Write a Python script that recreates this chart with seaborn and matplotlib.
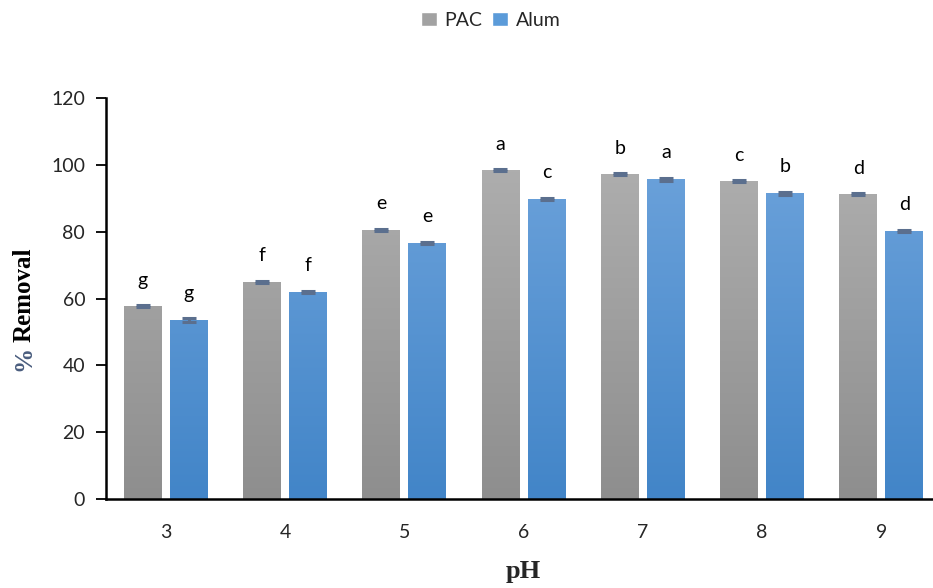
import numpy as np
import pandas as pd
import matplotlib
matplotlib.use("Agg")
import matplotlib.pyplot as plt
import matplotlib.colors as mcolors
from matplotlib.patches import Patch
import seaborn as sns

# values
ph_levels = ["3", "4", "5", "6", "7", "8", "9"]
pac_removal = [57.7, 64.9, 80.5, 98.4, 97.2, 95.1, 91.2]
alum_removal = [53.6, 62.0, 76.6, 89.8, 95.7, 91.5, 80.2]
pac_err = [0.3, 0.3, 0.4, 0.3, 0.3, 0.3, 0.3]
alum_err = [0.5, 0.3, 0.3, 0.4, 0.4, 0.4, 0.3]
pac_letters = ["g", "f", "e", "a", "b", "c", "d"]
alum_letters = ["g", "f", "e", "c", "a", "b", "d"]

df = pd.DataFrame({
    "pH": ph_levels * 2,
    "removal": pac_removal + alum_removal,
    "coagulant": ["PAC"] * len(ph_levels) + ["Alum"] * len(ph_levels),
})

sns.set_style("white")
plt.rcParams["font.family"] = ["Lato", "DejaVu Sans"]

fig = plt.figure(figsize=(9.33, 5.88), dpi=100)
ax = fig.add_axes([106 / 933, 89 / 588, 835 / 933, 401 / 588])

sns.barplot(data=df, x="pH", y="removal", hue="coagulant", order=ph_levels,
            hue_order=["PAC", "Alum"], palette=["#a4a4a4", "#5b9bd9"],
            width=0.772, gap=0.176, errorbar=None, legend=False, ax=ax)

# gradient fill (Excel style) clipped to each bar
grads = {
    0: ("#b4b4b4", "#8e8e8e"),
    1: ("#73a7de", "#4285c8"),
}
for i, cont in enumerate(ax.containers):
    top_c, bot_c = grads[i]
    cmap = mcolors.LinearSegmentedColormap.from_list(f"g{i}", [bot_c, top_c])
    for bar in cont:
        x0, w = bar.get_x(), bar.get_width()
        grad = np.linspace(0, 1, 256).reshape(-1, 1)
        im = ax.imshow(grad, cmap=cmap, origin="lower", aspect="auto",
                       extent=[x0, x0 + w, 0, 120], zorder=2)
        im.set_clip_path(bar)
        bar.set_facecolor("none")
        bar.set_edgecolor("none")

# error bars and significance letters
for cont, errs, letters in [(ax.containers[0], pac_err, pac_letters),
                            (ax.containers[1], alum_err, alum_letters)]:
    xs = [b.get_x() + b.get_width() / 2 for b in cont]
    hs = [b.get_height() for b in cont]
    ax.errorbar(xs, hs, yerr=errs, fmt="none", ecolor="#5b6f8e",
                elinewidth=2.2, capsize=5, capthick=2.2, zorder=4)
    for x, h, e, lt in zip(xs, hs, errs, letters):
        ax.annotate(lt, (x, h + e), xytext=(0, 12), textcoords="offset points",
                    ha="center", va="bottom", fontsize=14, color="black")

ax.set_xlim(-0.5, 6.5)
ax.set_ylim(0, 120)
ax.set_yticks(range(0, 121, 20))
ax.set_xticks(range(len(ph_levels)))
ax.set_xticklabels(ph_levels)
ax.set_xticks(np.arange(-0.5, 7, 1), minor=True)
ax.tick_params(axis="x", which="major", length=0, pad=18, labelsize=14)
ax.tick_params(axis="x", which="minor", length=7, width=1.3, direction="out",
               color="black")
ax.tick_params(axis="y", length=7, width=1.3, direction="out", labelsize=14,
               pad=8, color="black", left=True)
for s in ["top", "right"]:
    ax.spines[s].set_visible(False)
for s in ["left", "bottom"]:
    ax.spines[s].set_color("black")
    ax.spines[s].set_linewidth(1.8)

ax.set_xlabel("pH", fontsize=19, fontweight="bold",
              family=["Liberation Serif"], labelpad=14)
ax.set_ylabel("")

# y label: blue-grey percent sign followed by black "Removal"
ylab_y = (588 - 371) / 588
lab_font = dict(rotation=90, ha="center", va="bottom", fontsize=18,
                fontweight="bold", family=["Liberation Serif"])
pct = fig.text(0.026, ylab_y, "%", color="#4a5d7e", **lab_font)
renderer = fig.canvas.get_renderer()
pct_h = pct.get_window_extent(renderer).height
gap_px = 4  # space between "%" and "Removal"
fig.text(0.026, ylab_y + (pct_h + gap_px) / 588, "Removal", color="black",
         **lab_font)

handles = [Patch(facecolor="#a2a2a2", label="PAC"),
           Patch(facecolor="#5b9bd9", label="Alum")]
fig.legend(handles=handles, loc="upper center", bbox_to_anchor=(0.526, 1.01),
           ncol=2, frameon=False, fontsize=14, handlelength=0.8,
           handleheight=0.8, handletextpad=0.4, columnspacing=0.5)

fig.savefig("out.png", dpi=100)
